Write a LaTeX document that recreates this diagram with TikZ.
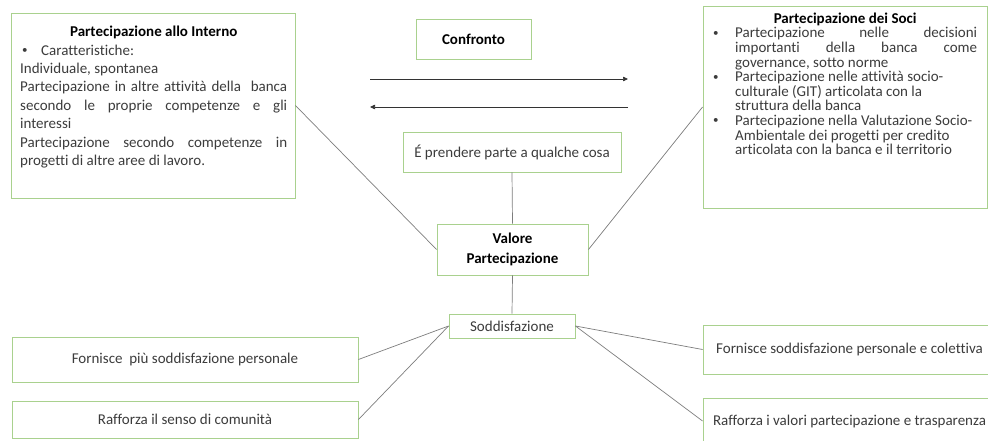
\documentclass[tikz,border=0pt]{standalone}
\usepackage{fontspec}
\setmainfont{Carlito}[Ligatures=NoCommon]
\usetikzlibrary{arrows.meta}
\definecolor{boxgreen}{RGB}{169,209,142}
\definecolor{txt}{RGB}{60,60,60}
\definecolor{conn}{RGB}{125,125,125}
\newcommand{\smbul}{\raisebox{1.5pt}{\fontsize{11}{11}\selectfont •}}
\begin{document}
\begin{tikzpicture}[x=1pt,y=-1pt,
  gbox/.style={draw=boxgreen, line width=0.9pt, fill=white, rectangle, inner sep=0pt},
  lbl/.style={font=\fontsize{15}{18.4}\selectfont, text=txt, inner sep=0pt},
  ttl/.style={font=\fontsize{15}{20}\selectfont\bfseries, text=black},
  link/.style={draw=conn, line width=0.7pt},
  flow/.style={draw=black!80, line width=0.7pt, -{Triangle[length=5pt,width=4.5pt]}}]
\useasboundingbox (0,0) rectangle (988,441);
% boxes
\node[gbox, minimum width=284pt, minimum height=185pt] (interno) at (153,105.5) {};
\node[gbox, minimum width=284pt, minimum height=202pt] (soci) at (845,107) {};
\node[gbox, ttl, minimum width=115pt, minimum height=40pt] (confronto) at (473.5,39) {Confronto};
\node[gbox, lbl, minimum width=218pt, minimum height=40pt] (prendere) at (512,152) {É prendere parte a qualche cosa};
\node[gbox, ttl, align=center, minimum width=151pt, minimum height=51pt] (valore) at (512.5,249.5) {Valore\\Partecipazione};
\node[gbox, lbl, minimum width=126pt, minimum height=24pt] (sodd) at (512,326) {Soddisfazione};
\node[gbox, lbl, minimum width=346pt, minimum height=45pt] (fornL) at (185,359.5) {Fornisce\ \ più soddisfazione personale};
\node[gbox, lbl, minimum width=346pt, minimum height=37pt] (raffL) at (185,419.5) {Rafforza il senso di comunità};
\node[gbox, lbl, minimum width=293pt, minimum height=49pt] (fornR) at (849.5,349.5) {Fornisce soddisfazione personale e colettiva};
\node[gbox, minimum width=293pt, minimum height=48pt] (raffR) at (849.5,422) {};
\node[lbl] (raffRt) at (849.5,421) {Rafforza i valori partecipazione e trasparenza};
% texts of big boxes
\node[lbl, text width=267pt, align=justify, anchor=north west] (internoT) at (20,26) {%
\parindent=0pt
{\centering\textbf{\color{black}Partecipazione allo Interno}\par}
\hspace*{2pt}\makebox[19pt][l]{\smbul}Caratteristiche:\par
Individuale, spontanea\par
Partecipazione in altre attività della\ \ banca\linebreak secondo le proprie competenze e gli\linebreak interessi\par
Partecipazione secondo competenze in\linebreak progetti di altre aree di lavoro.\par};
\node[lbl, font=\fontsize{15}{14.6}\selectfont, text width=264pt, align=justify, anchor=north west] (sociT) at (713,12.5) {%
\parindent=0pt
{\centering\textbf{\color{black}Partecipazione dei Soci}\par}
\hangindent=22pt\hangafter=1 \makebox[22pt][l]{\smbul}Partecipazione nelle decisioni\linebreak importanti della banca come\linebreak governance, sotto norme\par
\hangindent=22pt\hangafter=1 \makebox[22pt][l]{\smbul}Partecipazione nelle attività socio-\newline culturale (GIT) articolata con la\newline struttura della banca\par
\hangindent=22pt\hangafter=1 \makebox[22pt][l]{\smbul}Partecipazione nella Valutazione Socio-\newline Ambientale dei progetti per credito\newline articolata con la banca e il territorio\par};
% arrows
\coordinate (a1) at (370,79);
\coordinate (a2) at (628,79);
\coordinate (b1) at (628,107);
\coordinate (b2) at (370,107);
\draw[flow] (a1) -- (a2);
\draw[flow] (b1) -- (b2);
% connectors
\draw[link] (interno.east) -- (valore.west);
\draw[link] (soci.west) -- (valore.east);
\draw[link] (prendere.south) -- (valore.north);
\draw[link] (valore.south) -- (sodd.north);
\draw[link] (sodd.west) -- (fornL.east);
\draw[link] (sodd.west) -- (raffL.east);
\draw[link] (sodd.east) -- (fornR.west);
\draw[link] (sodd.east) -- (raffR.west |- raffRt);
\end{tikzpicture}
\end{document}
